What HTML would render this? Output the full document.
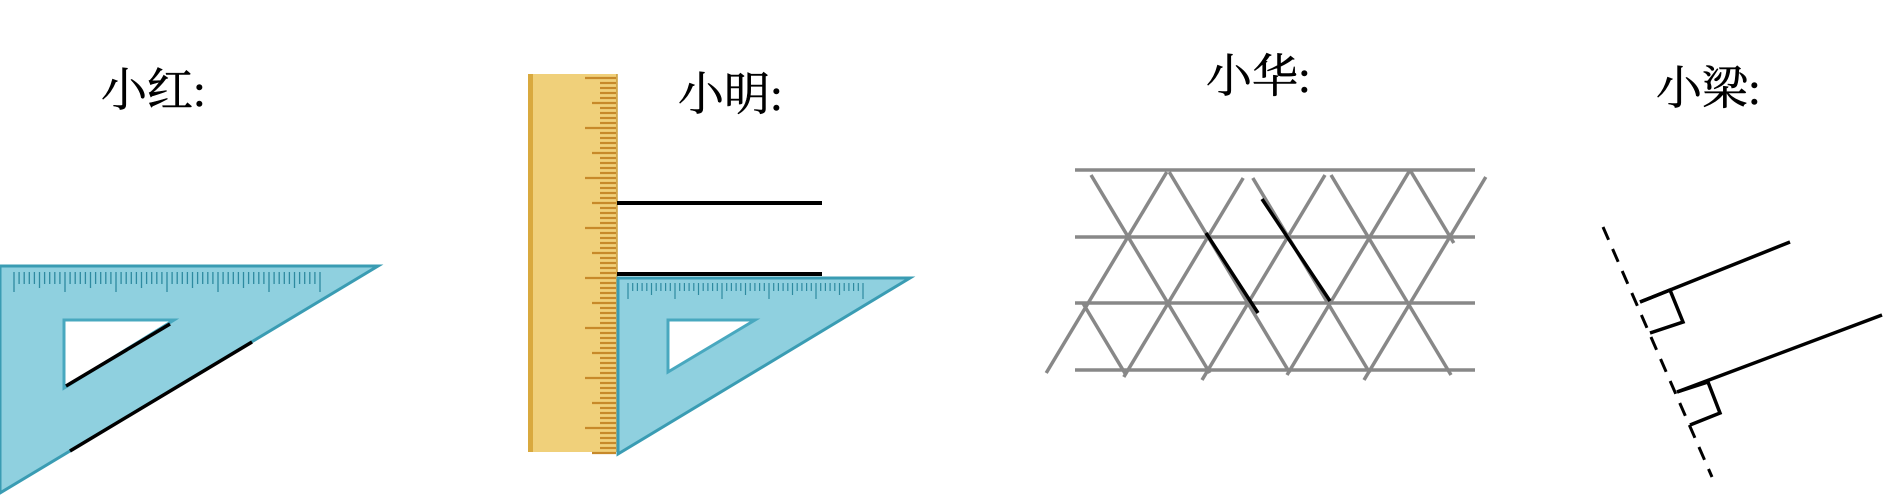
<!DOCTYPE html>
<html><head><meta charset="utf-8"><style>
html,body{margin:0;padding:0;background:#fff;width:1883px;height:495px;overflow:hidden}
svg{display:block}
text{font-family:"Liberation Serif","Noto Serif CJK SC",serif;font-size:46px;fill:#000;stroke:#000;stroke-width:0.6}
</style></head><body>
<svg width="1883" height="495" viewBox="0 0 1883 495">
<text x="101" y="106">小红:</text>
<text x="678" y="110">小明:</text>
<text x="1206" y="92">小华:</text>
<text x="1656" y="104">小梁:</text>

<g>
<path d="M0,266 L378,266 L0,493 Z" fill="#8fd0df" stroke="#3a9cb3" stroke-width="3"/>
<path d="M64,320 L174,320 L64,388 Z" fill="#fff" stroke="#48a8bf" stroke-width="3"/>
<g id="ticks1" stroke="#2e8aa0" stroke-width="1.3"></g>
<line x1="66" y1="386" x2="170" y2="324" stroke="#000" stroke-width="3.5"/>
<line x1="70" y1="451" x2="252" y2="342" stroke="#000" stroke-width="3.5"/>
</g>

<g>
<rect x="528" y="74" width="89" height="378" fill="#f0d07a"/>
<rect x="528" y="74" width="5" height="378" fill="#d9a93e"/>
<line x1="617" y1="74" x2="617" y2="452" stroke="#c89a3a" stroke-width="1.5"/>
<g id="rticks" stroke="#c7892a" stroke-width="2.2"></g>
</g>
<line x1="617" y1="203" x2="822" y2="203" stroke="#000" stroke-width="4"/>
<line x1="617" y1="274" x2="822" y2="274" stroke="#000" stroke-width="4"/>
<g>
<path d="M618,278 L910,278 L618,454 Z" fill="#8fd0df" stroke="#3a9cb3" stroke-width="3"/>
<path d="M668,320 L755,320 L668,372 Z" fill="#fff" stroke="#48a8bf" stroke-width="3"/>
<g id="ticks2" stroke="#2e8aa0" stroke-width="1.2"></g>
</g>

<g>
<g id="grid" stroke="#888" stroke-width="3.5"></g>
<line x1="1206" y1="233" x2="1258" y2="313" stroke="#000" stroke-width="3.5"/>
<line x1="1262" y1="199" x2="1330" y2="301" stroke="#000" stroke-width="3.5"/>
</g>

<g stroke="#000" fill="none" stroke-width="3.5">
<line x1="1603" y1="227" x2="1712" y2="477" stroke-dasharray="14,10" stroke-width="3"/>
<line x1="1640" y1="302" x2="1790" y2="242"/>
<line x1="1677" y1="392" x2="1882" y2="315"/>
<path d="M1640,302 L1670,290 L1683,322 L1650,333"/>
<path d="M1677,392 L1708,382 L1720,413 L1690,425"/>
</g>
</svg>
<script>
var NS='http://www.w3.org/2000/svg';
function ln(g,x1,y1,x2,y2){var l=document.createElementNS(NS,'line');l.setAttribute('x1',x1);l.setAttribute('y1',y1);l.setAttribute('x2',x2);l.setAttribute('y2',y2);g.appendChild(l);return l;}
var t1=document.getElementById('ticks1');
for(var i=0;i<=60;i++){var x=14+i*5.1;ln(t1,x,272,x,i%10==0?292:(i%5==0?288:284));}
var t2=document.getElementById('ticks2');
for(var i=0;i<=50;i++){var x=628+i*4.7;ln(t2,x,283,x,i%10==0?299:(i%5==0?295:291));}
var rt=document.getElementById('rticks');
for(var i=0;i<=75;i++){var y=78+i*5;ln(rt,i%10==0?585:(i%5==0?592:600),y,616,y);}
var g=document.getElementById('grid');
var rowYs=[170,237,303,370];
var downRightC=[1088,1168,1248,1328,1410,1003];
var downRightY0=[175,172,178,175,170,303];
var downRightY1=[373,373,373,375,243,375];
var downLeftC=[1168,1248,1328,1410,1490];
var downLeftY0=[172,178,175,170,177];
var downLeftY1=[373,377,380,375,380];
var k=0.6;
rowYs.forEach(function(y){ln(g,1075,y,1475,y);});
downRightC.forEach(function(c,i){var a=downRightY0[i],b=downRightY1[i];ln(g,c+k*(a-170),a,c+k*(b-170),b);});
downLeftC.forEach(function(c,i){var a=downLeftY0[i],b=downLeftY1[i];ln(g,c-k*(a-170),a,c-k*(b-170),b);});
</script>
</body></html>
